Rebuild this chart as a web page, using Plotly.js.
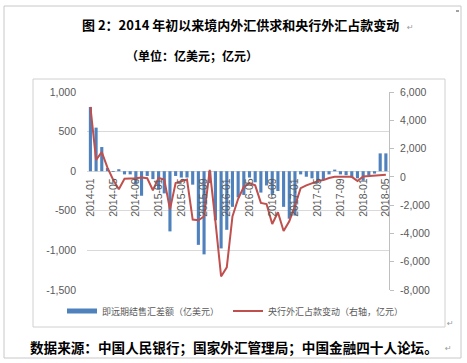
<!DOCTYPE html>
<html><head><meta charset="utf-8">
<script src="https://cdn.plot.ly/plotly-3.0.1.min.js"></script>
<style>html,body{margin:0;padding:0;background:#fff;}#chart{width:467px;height:363px;}</style>
</head><body><div id="chart"></div>
<script>
const months = ['2014-01','2014-02','2014-03','2014-04','2014-05','2014-06','2014-07','2014-08','2014-09','2014-10','2014-11','2014-12',
'2015-01','2015-02','2015-03','2015-04','2015-05','2015-06','2015-07','2015-08','2015-09','2015-10','2015-11','2015-12',
'2016-01','2016-02','2016-03','2016-04','2016-05','2016-06','2016-07','2016-08','2016-09','2016-10','2016-11','2016-12',
'2017-01','2017-02','2017-03','2017-04','2017-05','2017-06','2017-07','2017-08','2017-09','2017-10','2017-11','2017-12',
'2018-01','2018-02','2018-03','2018-04','2018-05'];
// 即远期结售汇差额（亿美元）
const fxSettlement = [810,550,305,40,-10,25,-40,-40,-170,-310,-60,-100,
-230,-280,-760,-60,-80,-80,-170,-930,-1050,-150,-620,-975,
-740,-450,-330,-300,-80,-140,-270,-180,-300,-250,-450,-600,
-560,-40,-70,-90,-150,-110,-40,20,-40,-50,-80,-90,
-120,-50,-30,225,225];
// 央行外汇占款变动（亿元）
const pbocFxChange = [4950,1200,1750,650,-200,-870,-140,-140,-100,-50,-100,-950,
-70,-190,-2300,-430,-310,-190,-3020,-3070,-2800,500,-3150,-7040,
-6400,-2800,-1550,-700,-450,-600,-1840,-1920,-3330,-2500,-3830,-3140,
-2050,-800,-600,-450,-300,-230,-80,0,20,10,0,-300,
20,60,80,120,150];
const xTickLabels = ['2014-01','2014-05','2014-09','2015-01','2015-05','2015-09','2016-01','2016-05','2016-09','2017-01','2017-05','2017-09','2018-01','2018-05'];
const leftTickVals = [1000,500,0,-500,-1000,-1500];
const leftTickText = ['1,000','500','0','-500','-1,000','-1,500'];
const rightTickVals = [6000,4000,2000,0,-2000,-4000,-6000,-8000];
const rightTickText = ['6,000','4,000','2,000','0','-2,000','-4,000','-6,000','-8,000'];
const barName = '即远期结售汇差额（亿美元）';
const lineName = '央行外汇占款变动（右轴，亿元）';
const titleText = '图 2：2014 年初以来境内外汇供求和央行外汇占款变动';
const subtitleText = '（单位：亿美元；亿元）';
const sourceText = '数据来源：中国人民银行；国家外汇管理局；中国金融四十人论坛。';

const W = 467, H = 363, M = {l: 87, r: 78, t: 92, b: 73};
const pw = W - M.l - M.r, ph = H - M.t - M.b;
const px = x => (x - M.l) / pw;
const py = y => (H - M.b - y) / ph;
const yRange = [-1500, 1000];
const y2Range = [-8000, 6000];
const tickFont = {family: 'Liberation Sans, Arial, sans-serif', size: 10.5, color: '#595959'};
const cjk = 'Noto Sans CJK SC, sans-serif';

const traces = [
  {type: 'bar', x: months, y: fxSettlement, marker: {color: '#4f81bd'}, yaxis: 'y', showlegend: false, name: barName},
  {type: 'scatter', mode: 'lines', x: [null], y: [null], line: {color: '#4f81bd', width: 5}, name: barName, legend: 'legend', showlegend: true, hoverinfo: 'skip'},
  {type: 'scatter', mode: 'lines', x: months, y: pbocFxChange, yaxis: 'y2', line: {color: '#c0504d', width: 2}, name: lineName, legend: 'legend2', showlegend: true}
];

const ann = (text, x, y, size, opts) => Object.assign({xref: 'paper', yref: 'paper', x: px(x), y: py(y), xanchor: 'center', yanchor: 'middle', showarrow: false, text: text, font: {family: cjk, size: size, color: '#000'}}, opts || {});

const layout = {
  width: W, height: H,
  margin: M,
  paper_bgcolor: '#fff', plot_bgcolor: 'rgba(0,0,0,0)',
  bargap: 0.45,
  xaxis: {type: 'category', anchor: 'free', position: (0 - yRange[0]) / (yRange[1] - yRange[0]),
    range: [-0.6, 52.55], tickmode: 'array', tickvals: xTickLabels, ticktext: xTickLabels, tickangle: -90,
    tickfont: tickFont, showgrid: false, showline: false, zeroline: false, ticks: '', ticklabelstandoff: 4},
  yaxis: {range: yRange, tickmode: 'array', tickvals: leftTickVals, ticktext: leftTickText, tickfont: tickFont,
    showgrid: true, gridcolor: '#d9d9d9', gridwidth: 1, zeroline: false, showline: false, ticks: '', ticklabelstandoff: 10},
  yaxis2: {overlaying: 'y', side: 'right', range: y2Range, tickmode: 'array', tickvals: rightTickVals, ticktext: rightTickText,
    tickfont: tickFont, showgrid: false, zeroline: false, showline: true, linecolor: '#bfbfbf', linewidth: 1,
    ticks: 'outside', ticklen: 4, tickcolor: '#bfbfbf', ticklabelstandoff: 4},
  legend: {orientation: 'h', x: px(62), y: py(311), xanchor: 'left', yanchor: 'middle', bgcolor: 'rgba(0,0,0,0)',
    font: {family: cjk, size: 9, color: '#595959'}},
  legend2: {orientation: 'h', x: px(228), y: py(311), xanchor: 'left', yanchor: 'middle', bgcolor: 'rgba(0,0,0,0)',
    font: {family: cjk, size: 9, color: '#595959'}},
  shapes: [
    {type: 'rect', xref: 'paper', yref: 'paper', x0: px(4), x1: px(461), y0: py(6), y1: py(358), line: {color: '#c8c8c8', width: 1}},
    {type: 'rect', xref: 'paper', yref: 'paper', x0: px(33), x1: px(445), y0: py(79), y1: py(327), line: {color: '#d0d0d0', width: 1}},
    {type: 'line', xref: 'paper', yref: 'paper', x0: px(456), x1: px(459), y0: py(11), y1: py(11), line: {color: '#444', width: 1}}
  ],
  annotations: [
    ann(titleText, 240, 25, 13, {font: {family: cjk, size: 13, color: '#000', weight: 'bold'}}),
    ann('↵', 410, 27, 8, {font: {family: 'DejaVu Sans', size: 8, color: '#999'}}),
    ann(subtitleText, 192, 55, 12, {font: {family: cjk, size: 12, color: '#000', weight: 'bold'}}),
    ann(sourceText, 234, 347, 13.6, {font: {family: cjk, size: 13.6, color: '#000', weight: 'bold'}}),
    ann('↵', 449, 348, 8, {font: {family: 'DejaVu Sans', size: 8, color: '#999'}}),
    ann('↵', 450, 323, 8, {font: {family: 'DejaVu Sans', size: 8, color: '#999'}})
  ]
};

Plotly.newPlot('chart', traces, layout, {displayModeBar: false, staticPlot: true});
</script>
</body></html>
